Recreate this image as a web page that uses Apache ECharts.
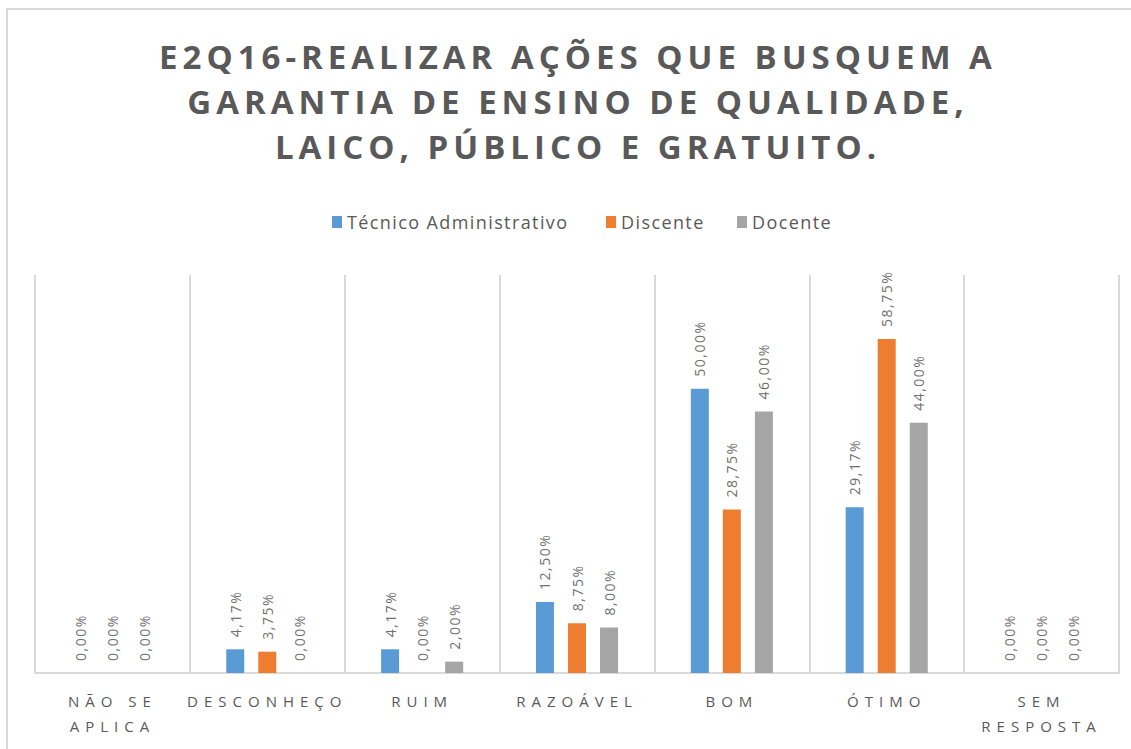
<!DOCTYPE html>
<html>
<head>
<meta charset="utf-8">
<title>E2Q16</title>
<script src="https://cdn.jsdelivr.net/npm/echarts@6.0.0/dist/echarts.min.js"></script>
<style>
    html, body { margin: 0; padding: 0; background: #ffffff; }
    #chart { width: 1131px; height: 749px; }
    /* Excel-like letter spacing on title, legend and labels */
    #chart text[style*="33px"] { letter-spacing: 5px; }
    #chart text[style*="18px"] { letter-spacing: 1.4px; }
    #chart text[style*="15px"] { letter-spacing: 6px; }
    #chart text[style*="14px"] { letter-spacing: 1.5px; }
</style>
</head>
<body>
<div id="chart"></div>
<script>
// Categories (x axis) and series values, in percent
var categories = ['NÃO SE\nAPLICA', 'DESCONHEÇO', 'RUIM', 'RAZOÁVEL', 'BOM', 'ÓTIMO', 'SEM\nRESPOSTA'];
var seriesNames = ['Técnico Administrativo', 'Discente', 'Docente'];
var tecnicoValues = [0, 4.17, 4.17, 12.50, 50.00, 29.17, 0];
var discenteValues = [0, 3.75, 0, 8.75, 28.75, 58.75, 0];
var docenteValues = [0, 0, 2.00, 8.00, 46.00, 44.00, 0];
var seriesColors = ['#5B9BD5', '#ED7D31', '#A5A5A5'];

// Format value as "50,00%"
function formatPercent(v) {
    return v.toFixed(2).replace('.', ',') + '%';
}

function buildSeries(name, data, color) {
    return {
        name: name,
        type: 'bar',
        data: data,
        barWidth: 18,
        barGap: '78%',
        itemStyle: { color: color },
        label: {
            show: true,
            position: 'top',
            rotate: 90,
            align: 'left',
            verticalAlign: 'middle',
            distance: 12,
            fontFamily: 'Open Sans',
            fontSize: 14,
            color: '#707070',
            formatter: function(p) { return formatPercent(p.value); }
        }
    };
}

// One legend per series so the letter-spaced texts don't run into each other
var legendLefts = [332, 606, 737];
function buildLegend(name, left) {
    return {
        data: [name],
        top: 208,
        left: left,
        icon: 'rect',
        itemWidth: 10,
        itemHeight: 12,
        textStyle: {
            fontFamily: 'Open Sans',
            fontSize: 18,
            color: '#595959'
        }
    };
}

var chart = echarts.init(document.getElementById('chart'), null, { renderer: 'svg' });
chart.setOption({
    animation: false,
    backgroundColor: '#ffffff',
    graphic: [{
        type: 'rect',
        shape: { x: 7, y: 9, width: 1300, height: 900 },
        style: { fill: 'none', stroke: '#D9D9D9', lineWidth: 2 },
        silent: true
    }],
    title: {
        text: 'E2Q16-REALIZAR AÇÕES QUE BUSQUEM A\nGARANTIA DE ENSINO DE QUALIDADE,\nLAICO, PÚBLICO E GRATUITO.',
        left: 578,
        top: 34,
        textAlign: 'center',
        padding: 0,
        textStyle: {
            fontFamily: 'Open Sans',
            fontSize: 33,
            fontWeight: 'bold',
            lineHeight: 45,
            color: '#595959'
        }
    },
    legend: seriesNames.map(function(name, i) {
        return buildLegend(name, legendLefts[i] - 5);
    }),
    grid: {
        left: 35,
        right: 12,
        top: 275,
        bottom: 76,
        containLabel: false
    },
    xAxis: {
        type: 'category',
        data: categories,
        axisTick: { show: false },
        axisLine: { lineStyle: { color: '#D9D9D9', width: 2 } },
        splitLine: { show: true, lineStyle: { color: '#D9D9D9', width: 2 } },
        axisLabel: {
            interval: 0,
            margin: 15,
            fontFamily: 'Open Sans',
            fontSize: 15,
            lineHeight: 25,
            color: '#595959'
        }
    },
    yAxis: {
        type: 'value',
        min: 0,
        max: 70,
        show: false,
        splitLine: { show: false }
    },
    series: [
        buildSeries(seriesNames[0], tecnicoValues, seriesColors[0]),
        buildSeries(seriesNames[1], discenteValues, seriesColors[1]),
        buildSeries(seriesNames[2], docenteValues, seriesColors[2])
    ]
});
</script>
</body>
</html>
